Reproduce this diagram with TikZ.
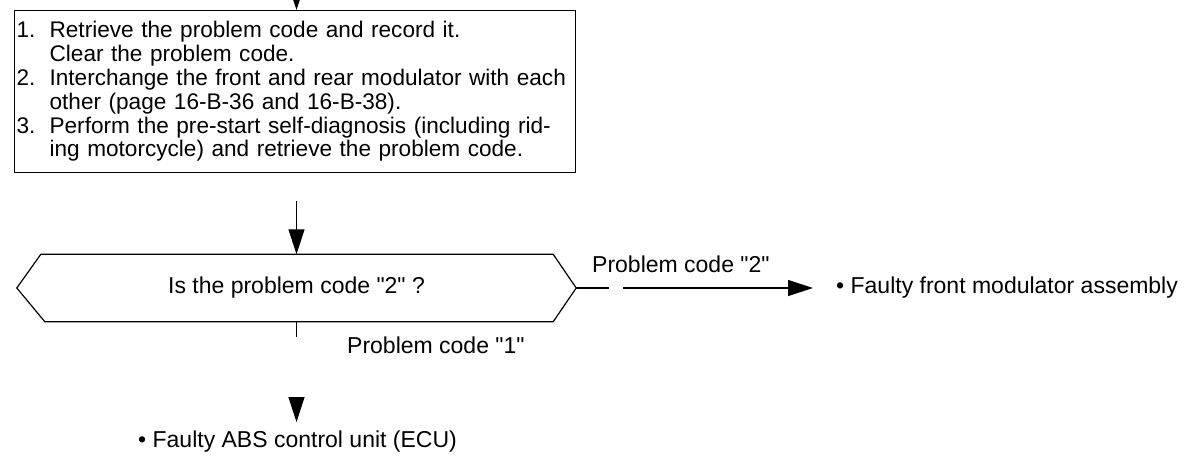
\documentclass[tikz,border=0pt]{standalone}
\usepackage{fontspec}
\setmainfont{Liberation Sans}[Ligatures=TeXOff]
\usetikzlibrary{arrows.meta,calc}
\setlength{\parindent}{0pt}
\begin{document}
\begin{tikzpicture}[x=1pt,y=-1pt,
  every node/.style={font=\fontsize{23}{24}\selectfont, inner sep=0pt},
  line/.style={line width=1.2pt, black},
  arr/.style={line, -{Triangle[length=25pt,width=16pt]}},
  stepbox/.style={draw, line width=1.2pt, anchor=north west, minimum width=561pt,
    minimum height=162pt, text width=557pt, inner xsep=2pt, inner ysep=0pt, align=left,
    font=\fontsize{22.6}{23.8}\selectfont},
  decision/.style={minimum width=559pt, minimum height=67pt},
  lbl/.style={anchor=west}
]
\useasboundingbox (0,0) rectangle (1196,455);
\clip (0,0) rectangle (1196,455);

% process box
\node[stepbox] (steps) at (14,10) {%
\mbox{\makebox[33pt][l]{1.}Retrieve the problem code and record it.}\\
\mbox{\hspace*{33pt}Clear the problem code.}\\
\mbox{\makebox[33pt][l]{2.}Interchange the front and rear modulator with each}\\
\mbox{\hspace*{33pt}other (page 16-B-36 and 16-B-38).}\\
\mbox{\makebox[33pt][l]{3.}Perform the pre-start self-diagnosis (including rid-}\\
\mbox{\hspace*{33pt}ing motorcycle) and retrieve the problem code.}};

% decision
\node[decision] (hex) at (296.5,288) {Is the problem code "2" ?};
\draw[line] (hex.west) -- ([xshift=24pt]hex.north west) -- ([xshift=-23pt]hex.north east)
  -- (hex.east) -- ([xshift=-23pt]hex.south east) -- ([xshift=28pt]hex.south west) -- cycle;

% results
\node[lbl] (front) at (836,288) {\textbullet\ Faulty front modulator assembly};
\node[lbl] (ecu) at (138,442) {\textbullet\ Faulty ABS control unit (ECU)};

% branch labels
\node[lbl] (lbl2) at (592,264) {Problem code "2"};
\node[lbl] (lbl1) at (347,345) {Problem code "1"};

% connectors
\coordinate (in) at (296.5,-40);
\draw[arr] (in) -- (in |- steps.north);
\draw[arr, dash pattern=on 0pt off 28pt on 300pt] (steps.south -| hex.north) -- (hex.north);
\draw[arr, dash pattern=on 33pt off 14pt on 400pt, shorten >=23pt] (hex.east) -- (front.west);
\draw[arr, dash pattern=on 15pt off 300pt, shorten >=9pt] (hex.south) -- (hex.south |- ecu.north);
\end{tikzpicture}
\end{document}
